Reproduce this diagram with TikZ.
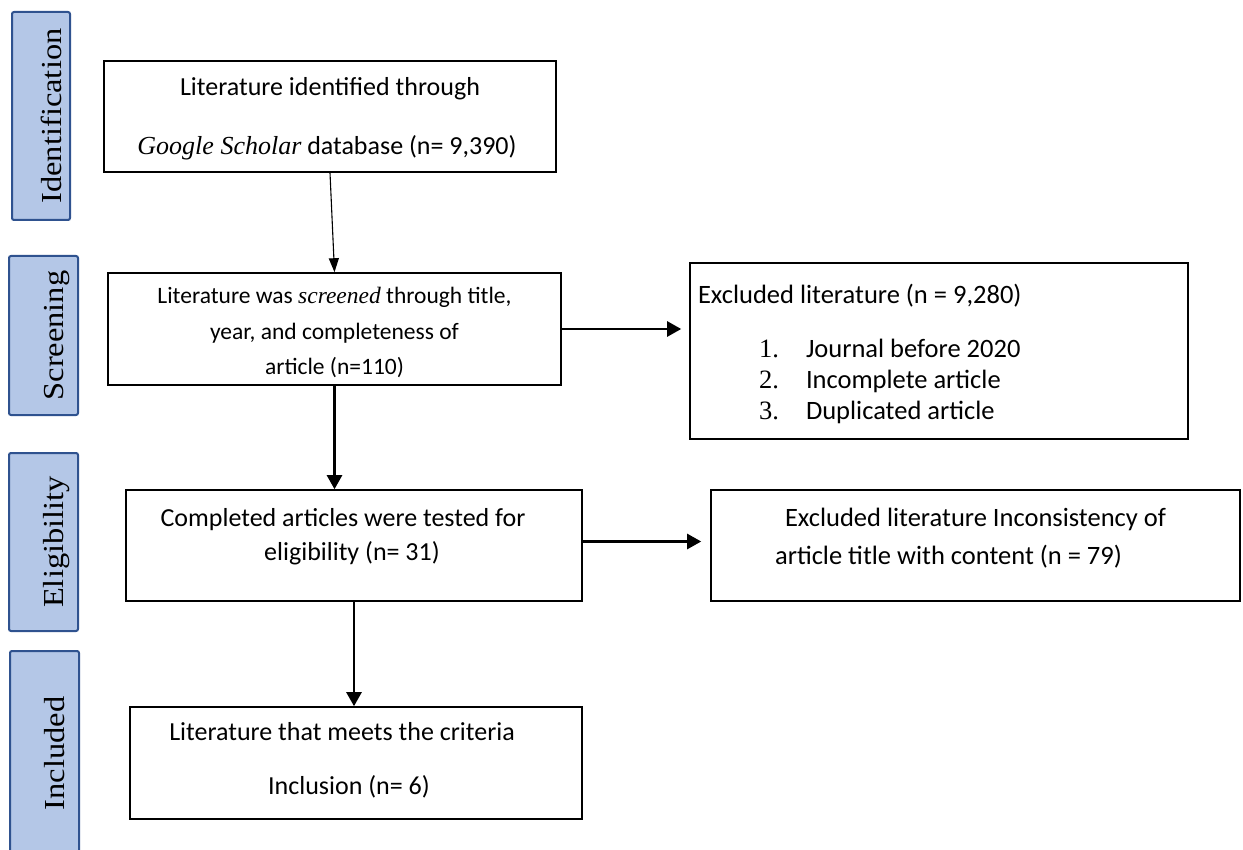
\documentclass[tikz,border=0pt]{standalone}
\usepackage{fontspec}
\setmainfont{Carlito}
\newfontfamily\stagefont[FakeStretch=1.12]{Liberation Serif}
\newfontfamily\seriffont{Liberation Serif}
\usetikzlibrary{arrows.meta}
\definecolor{stagefill}{HTML}{B4C7E7}
\definecolor{stageline}{HTML}{2F528F}
\newcommand{\boxtext}[4]{\parbox[c][#1][t]{#2}{\centering\vspace*{#3}\rule{0pt}{22pt}#4}}
\newcommand{\listitem}[2]{\hspace*{69pt}\makebox[47pt][l]{\seriffont #1}#2\par}
\newcommand{\padright}[1]{\hspace*{#1}\mbox{}}

\begin{document}
\begin{tikzpicture}[x=1pt, y=-1pt]
  \tikzset{stagebar/.style={draw=stageline, fill=stagefill, line width=2pt, rounded corners=2pt,
      rotate=90, inner sep=2pt, text height=40pt, text depth=0pt,
      font=\stagefont\fontsize{29}{34}\selectfont},
    flowbox/.style={draw, line width=1.6pt, inner sep=0pt},
    leadline/.style={line width=1.1pt, -{Triangle[length=14pt, width=10pt]}},
    flowarrow/.style={line width=2.5pt, -{Triangle[length=14pt, width=15pt]}}}
  \useasboundingbox (0,0) rectangle (1243,850);
  \clip (0,0) rectangle (1243,850);
  \node[stagebar, minimum width=208pt, minimum height=58pt] (ident) at (41,116) {Identification};
  \node[stagebar, minimum width=159pt, minimum height=69pt] (screen) at (43.5,335.5) {Screening};
  \node[stagebar, minimum width=178pt, minimum height=69pt] (elig) at (43.5,542) {Eligibility};
  \node[stagebar, minimum width=205pt, minimum height=69pt] (incl) at (44.5,753.5) {Included};
  \node[flowbox, font=\fontsize{26}{59}\selectfont] (identified) at (330,116.5)
    {\boxtext{111pt}{452pt}{13pt}{Literature identified through\\
      {\seriffont\itshape Google Scholar} database (n= 9,390)\padright{6pt}}};
  \node[flowbox, font=\fontsize{23.5}{35.5}\selectfont] (screened) at (334.5,329)
    {\boxtext{112pt}{453pt}{9pt}{Literature was {\seriffont\itshape screened} through title,\\
      year, and completeness of\\ article (n=110)}};
  \node[flowbox, font=\fontsize{26.5}{31}\selectfont] (excluded) at (939,351)
    {\parbox[c][176pt][t]{498pt}{\vspace*{18pt}\hspace*{8pt}\rule{0pt}{22pt}Excluded literature (n = 9,280)\par
      \vspace{24pt}
      \listitem{1.}{Journal before 2020}
      \listitem{2.}{Incomplete article}
      \listitem{3.}{Duplicated article}}};
  \node[flowbox, font=\fontsize{26}{34}\selectfont] (eligible) at (354,545.5)
    {\boxtext{111pt}{456pt}{14pt}{Completed articles were tested for\padright{22pt}\\
      eligibility (n= 31)\padright{4pt}}};
  \node[flowbox, font=\fontsize{26.5}{38}\selectfont] (inconsistent) at (975.5,545.5)
    {\boxtext{111pt}{529pt}{14pt}{Excluded literature Inconsistency of\\
      article title with content (n = 79)\padright{54pt}}};
  \node[flowbox, font=\fontsize{26}{54}\selectfont] (included) at (356,763)
    {\boxtext{112pt}{452pt}{11pt}{Literature that meets the criteria\padright{28pt}\\
      Inclusion (n= 6)\padright{14pt}}};
  \draw[leadline] (identified.south) -- (screened.north);
  \draw[flowarrow] (screened.south) -- (screened.south |- eligible.north);
  \draw[flowarrow] (eligible.south) -- (eligible.south |- included.north);
  \draw[flowarrow, shorten >=8pt] (screened.east) -- (screened.east -| excluded.west);
  \draw[flowarrow, shorten >=9pt] ([yshift=4pt]eligible.east) -- ([yshift=4pt]eligible.east -| inconsistent.west);
\end{tikzpicture}
\end{document}
